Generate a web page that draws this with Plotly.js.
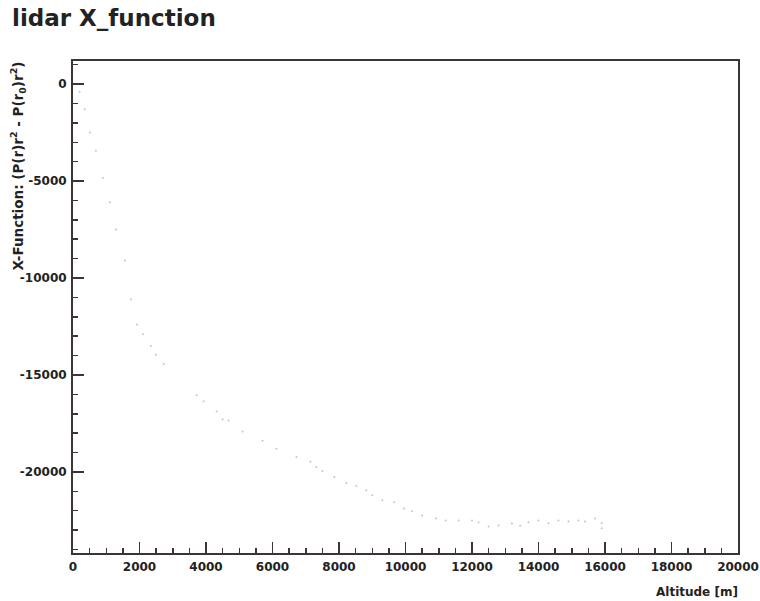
<!DOCTYPE html>
<html>
<head>
<meta charset="utf-8">
<script src="https://cdn.plot.ly/plotly-3.0.1.min.js"></script>
<style>html,body{margin:0;padding:0;background:#fff;}#chart{width:760px;height:601px;}</style>
</head>
<body>
<div id="chart"></div>
<script>
// Altitude [m]
const altitude = [200, 350, 510, 690, 900, 1110, 1290, 1560, 1740, 1920, 2100, 2340, 2490, 2730,
  3720, 3930, 4320, 4500, 4680, 5100, 5700, 6120, 6720, 7140, 7320, 7500, 7860, 8220, 8520, 8820,
  9000, 9300, 9660, 9960, 10200, 10500, 10920, 11210, 11600, 12000, 12200, 12500, 12800, 13200,
  13450, 13700, 14000, 14300, 14600, 14900, 15200, 15400, 15700, 15900, 15900];
// X-Function values
const xFunction = [-400, -1300, -2500, -3440, -4840, -6090, -7500, -9100, -11100, -12400, -12900, -13500, -13960, -14430,
  -16040, -16350, -16880, -17290, -17350, -17920, -18390, -18800, -19220, -19480, -19740, -19950, -20260, -20570, -20730, -20940,
  -21200, -21460, -21560, -21880, -22030, -22240, -22400, -22500, -22500, -22500, -22600, -22810, -22760, -22660,
  -22780, -22600, -22500, -22650, -22500, -22550, -22500, -22550, -22400, -22650, -22900];

const xTickVals = [0, 2000, 4000, 6000, 8000, 10000, 12000, 14000, 16000, 18000, 20000];
const xTickText = ['<b>0</b>', '<b>2000</b>', '<b>4000</b>', '<b>6000</b>', '<b>8000</b>', '<b>10000</b>',
  '<b>12000</b>', '<b>14000</b>', '<b>16000</b>', '<b>18000</b>', '<b>20000</b>'];
const yTickVals = [0, -5000, -10000, -15000, -20000];
const yTickText = ['<b>0</b>', '<b>-5000</b>', '<b>-10000</b>', '<b>-15000</b>', '<b>-20000</b>'];

const axisColor = '#3d3535';
const tickFont = {family: 'DejaVu Sans', size: 12, color: '#222'};

const trace = {
  x: altitude, y: xFunction, type: 'scatter', mode: 'markers',
  marker: {size: 2, color: '#bfc7cb'},
  hoverinfo: 'x+y'
};

const layout = {
  width: 760, height: 601,
  margin: {l: 73, r: 22, t: 61, b: 48},
  paper_bgcolor: '#fff', plot_bgcolor: '#fff',
  showlegend: false,
  title: {text: '<b>lidar X_function</b>', font: {family: 'DejaVu Sans', size: 23, color: '#222'},
    x: 0, xref: 'paper', xanchor: 'left', y: 0.983, yref: 'container', yanchor: 'top', pad: {l: -61}},
  xaxis: {
    range: [0, 20000], tickmode: 'array', tickvals: xTickVals, ticktext: xTickText,
    ticks: 'inside', ticklen: 11, tickwidth: 1.5, tickcolor: axisColor,
    minor: {dtick: 500, ticks: 'inside', ticklen: 5, tickwidth: 1.5, tickcolor: axisColor},
    showline: true, linecolor: axisColor, linewidth: 2, mirror: true,
    showgrid: false, zeroline: false, tickfont: tickFont, ticklabelstandoff: 2
  },
  yaxis: {
    range: [-24180, 1190], tickmode: 'array', tickvals: yTickVals, ticktext: yTickText,
    ticks: 'inside', ticklen: 11, tickwidth: 1.5, tickcolor: axisColor,
    minor: {dtick: 1000, tick0: 0, ticks: 'inside', ticklen: 5, tickwidth: 1.5, tickcolor: axisColor},
    showline: true, linecolor: axisColor, linewidth: 2, mirror: true,
    showgrid: false, zeroline: false, tickfont: tickFont, ticklabelstandoff: 2
  },
  annotations: [
    {text: '<b>Altitude [m]</b>', xref: 'paper', yref: 'paper', x: 1.003, y: 0, xanchor: 'right', yanchor: 'top',
      yshift: -30, showarrow: false, font: {family: 'DejaVu Sans', size: 12, color: '#222'}},
    {text: '<b>X-Function: (P(r)r<sup>2</sup> - P(r<sub>0</sub>)r<sup>2</sup>)</b>', xref: 'paper', yref: 'paper',
      x: 0, y: 1.002, xanchor: 'center', yanchor: 'top', xshift: -55, textangle: -90, showarrow: false,
      font: {family: 'DejaVu Sans', size: 13.5, color: '#222'}}
  ]
};

Plotly.newPlot('chart', [trace], layout, {displayModeBar: false, staticPlot: true});
</script>
</body>
</html>
